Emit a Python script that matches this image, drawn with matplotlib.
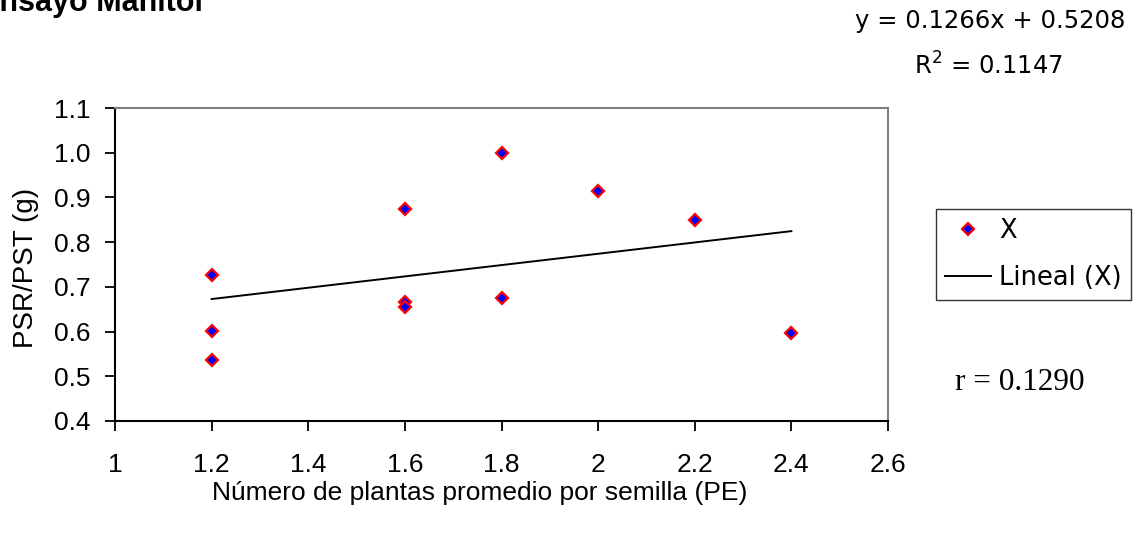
import matplotlib
matplotlib.use("Agg")
import matplotlib.pyplot as plt
import numpy as np

# Data
x_vals = [1.2, 1.2, 1.2, 1.6, 1.6, 1.6, 1.8, 1.8, 2.0, 2.2, 2.4]
y_vals = [0.727, 0.601, 0.536, 0.875, 0.666, 0.656, 1.000, 0.674, 0.914, 0.849, 0.596]
slope = 0.1266
intercept = 0.5208
x_ticks = [1, 1.2, 1.4, 1.6, 1.8, 2, 2.2, 2.4, 2.6]
x_tick_labels = ["1", "1.2", "1.4", "1.6", "1.8", "2", "2.2", "2.4", "2.6"]
y_ticks = [0.4, 0.5, 0.6, 0.7, 0.8, 0.9, 1.0, 1.1]
y_tick_labels = ["0.4", "0.5", "0.6", "0.7", "0.8", "0.9", "1.0", "1.1"]

W, H = 1138, 534
fig = plt.figure(figsize=(W / 100, H / 100), dpi=100)
ax = fig.add_axes([115 / W, 1 - 421 / H, (888 - 115) / W, (421 - 108) / H])

# trend line
xt = np.array([min(x_vals), max(x_vals)])
line, = ax.plot(xt, slope * xt + intercept, color="black", lw=1.4, label="Lineal (X)", zorder=2)
sc, = ax.plot(x_vals, y_vals, linestyle="none", marker="D", markersize=6.2,
              markerfacecolor="#0000ff", markeredgecolor="#ff0000", markeredgewidth=1.6,
              label="X", zorder=3)

ax.set_xlim(1, 2.6)
ax.set_ylim(0.4, 1.1)
ax.set_xticks(x_ticks)
ax.set_xticklabels(x_tick_labels)
ax.set_yticks(y_ticks)
ax.set_yticklabels(y_tick_labels)

for lab in ax.get_xticklabels() + ax.get_yticklabels():
    lab.set_fontfamily("Liberation Sans")
    lab.set_fontsize(19)
ax.tick_params(direction="out", length=7.2, width=1.3, color="black")
ax.tick_params(axis="x", pad=16)
ax.tick_params(axis="y", pad=10.5)

for s in ["left", "bottom"]:
    ax.spines[s].set_color("black")
    ax.spines[s].set_linewidth(1.5)
for s in ["top", "right"]:
    ax.spines[s].set_color("#808080")
    ax.spines[s].set_linewidth(1.5)

fig.text(480 / W, 1 - 493 / H, "Número de plantas promedio por semilla (PE)",
         ha="center", va="center", family="Liberation Sans", fontsize=19)
fig.text(26 / W, 1 - 268 / H, "PSR/PST (g)", rotation=90,
         ha="center", va="center", family="Liberation Sans", fontsize=20)

# title (cut off at the top-left as in the reference)
fig.text(-21 / W, 1 - 10.5 / H, "Ensayo Manitol", ha="left", va="baseline",
         family="Liberation Sans", fontweight="bold", fontsize=22)

# equation text
fig.text(1125 / W, 1 - 21 / H, "y = 0.1266x + 0.5208", ha="right", va="center",
         family="DejaVu Sans", fontsize=17.5)
fig.text(1063 / W, 1 - 66 / H, r"R$^2$ = 0.1147", ha="right", va="center",
         family="DejaVu Sans", fontsize=17.5)

fig.text(1020 / W, 1 - 383 / H, "r = 0.1290", ha="center", va="center",
         family="Liberation Serif", fontsize=22.5)

leg = fig.legend(handles=[sc, line], loc="upper left",
                 bbox_to_anchor=(936 / W, 1 - 209 / H),
                 bbox_transform=fig.transFigure,
                 prop={"family": "DejaVu Sans", "size": 18.5},
                 frameon=True, fancybox=False, borderpad=0.35,
                 handlelength=1.8, handletextpad=0.3, labelspacing=0.8,
                 borderaxespad=0)
leg.get_frame().set_edgecolor("black")
leg.get_frame().set_linewidth(1.0)

fig.savefig("out.png", dpi=100)
